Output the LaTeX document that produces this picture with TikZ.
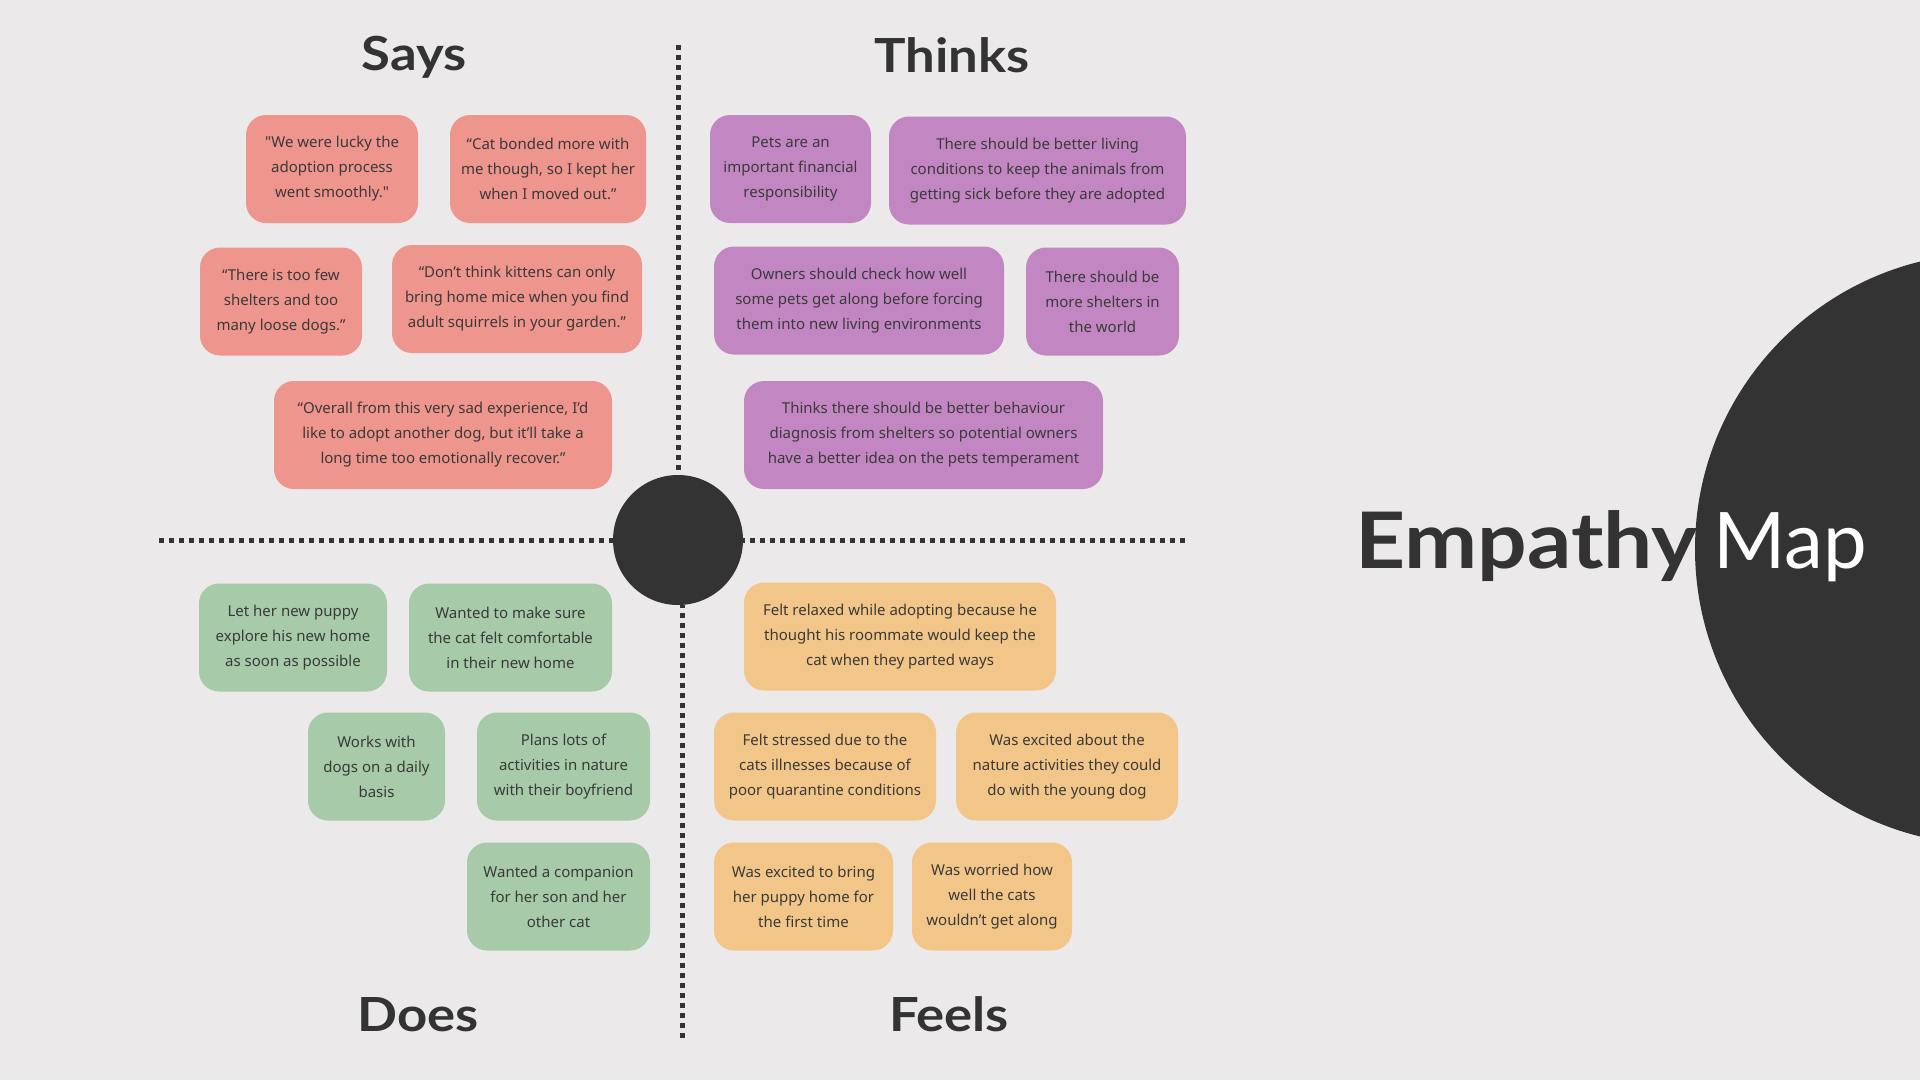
\documentclass[tikz,border=0pt]{standalone}
\usepackage{fontspec}
\usepackage{xcolor}
\newfontfamily\bodyfont{Noto Sans}
\newfontfamily\headfont{Lato}
\newfontfamily\headwide{Lato}[FakeStretch=1.12]
\definecolor{bgcol}{HTML}{EBE9EA}
\definecolor{ink}{HTML}{333333}
\definecolor{txtcol}{HTML}{3A3A3A}
\definecolor{saycol}{HTML}{EE958D}
\definecolor{thinkcol}{HTML}{C287C2}
\definecolor{docol}{HTML}{A7CAA9}
\definecolor{feelcol}{HTML}{F2C688}

\begin{document}
\begin{tikzpicture}[
    x=1pt, y=-1pt,
    card/.style={rounded corners=20pt, minimum height=108pt, inner sep=0pt,
        align=center, text=txtcol, font=\bodyfont\fontsize{15}{25}\selectfont},
    says/.style={card, fill=saycol},
    thinks/.style={card, fill=thinkcol},
    does/.style={card, fill=docol},
    feels/.style={card, fill=feelcol},
    title/.style={anchor=base, text=ink, font=\headwide\bfseries\fontsize{47}{50}\selectfont},
    axis/.style={ink, line width=5pt, dash pattern=on 5pt off 5pt}
]
% canvas
\fill[bgcol] (0,0) rectangle (1920,1080);
\clip (0,0) rectangle (1920,1080);

% big half circle and title
\fill[ink] (1991,549) circle[radius=296];
\node[anchor=base west, inner sep=0pt, text=ink,
      font=\headwide\bfseries\fontsize{78}{80}\selectfont] (emp) at (1355,568) {Empathy};
\node[anchor=base west, inner sep=0pt, text=white,
      font=\headfont\fontsize{78}{80}\selectfont] (map) at (1713,568) {Map};

% axes
\node[circle, fill=ink, minimum size=130pt, inner sep=0pt] (hub) at (678,540) {};
\coordinate (axtop) at (678,45);
\coordinate (axbot) at (682,1038);
\coordinate (axleft) at (159,540);
\coordinate (axright) at (1185,540);
\draw[axis] (axtop) -- (hub);
\draw[axis] (axbot) -- (hub.south -| axbot);
\draw[axis] (axleft) -- (hub);
\draw[axis] (axright) -- (hub);

% quadrant titles
\node[title] (says) at (414,70) {Says};
\node[title] (thinks) at (952,72) {Thinks};
\node[title] (does) at (418,1031) {Does};
\node[title] (feels) at (949,1031) {Feels};

% says
\node[says, minimum width=172pt] (s1) at (332,169) {"We were lucky the\\adoption process\\went smoothly."};
\node[says, minimum width=196pt] (s2) at (548,169) {“Cat bonded more with\\me though, so I kept her\\when I moved out.”};
\node[says, minimum width=162pt] (s3) at (281,301.5) {“There is too few\\shelters and too\\many loose dogs.”};
\node[says, minimum width=250pt] (s4) at (517,299) {“Don’t think kittens can only\\bring home mice when you find\\adult squirrels in your garden.”};
\node[says, minimum width=338pt] (s5) at (443,435) {“Overall from this very sad experience, I’d\\like to adopt another dog, but it’ll take a\\long time too emotionally recover.”};

% thinks
\node[thinks, minimum width=161pt] (t1) at (790.5,169) {Pets are an\\important financial\\responsibility};
\node[thinks, minimum width=297pt] (t2) at (1037.5,170.5) {There should be better living\\conditions to keep the animals from\\getting sick before they are adopted};
\node[thinks, minimum width=290pt] (t3) at (859,300.5) {Owners should check how well\\some pets get along before forcing\\them into new living environments};
\node[thinks, minimum width=153pt] (t4) at (1102.5,301.5) {There should be\\more shelters in\\the world};
\node[thinks, minimum width=359pt] (t5) at (923.5,435) {Thinks there should be better behaviour\\diagnosis from shelters so potential owners\\have a better idea on the pets temperament};

% does
\node[does, minimum width=188pt] (d1) at (293,637.5) {Let her new puppy\\explore his new home\\as soon as possible};
\node[does, minimum width=203pt] (d2) at (510.5,637.5) {Wanted to make sure\\the cat felt comfortable\\in their new home};
\node[does, minimum width=137pt] (d3) at (376.5,766.5) {Works with\\dogs on a daily\\basis};
\node[does, minimum width=173pt] (d4) at (563.5,766.5) {Plans lots of\\activities in nature\\with their boyfriend};
\node[does, minimum width=183pt] (d5) at (558.5,896.5) {Wanted a companion\\for her son and her\\other cat};

% feels
\node[feels, minimum width=312pt] (f1) at (900,636.5) {Felt relaxed while adopting because he\\thought his roommate would keep the\\cat when they parted ways};
\node[feels, minimum width=222pt] (f2) at (825,766.5) {Felt stressed due to the\\cats illnesses because of\\poor quarantine conditions};
\node[feels, minimum width=222pt] (f3) at (1067,766.5) {Was excited about the\\nature activities they could\\do with the young dog};
\node[feels, minimum width=179pt] (f4) at (803.5,896.5) {Was excited to bring\\her puppy home for\\the first time};
\node[feels, minimum width=160pt] (f5) at (992,896.5) {Was worried how\\well the cats\\wouldn’t get along};
\end{tikzpicture}
\end{document}
